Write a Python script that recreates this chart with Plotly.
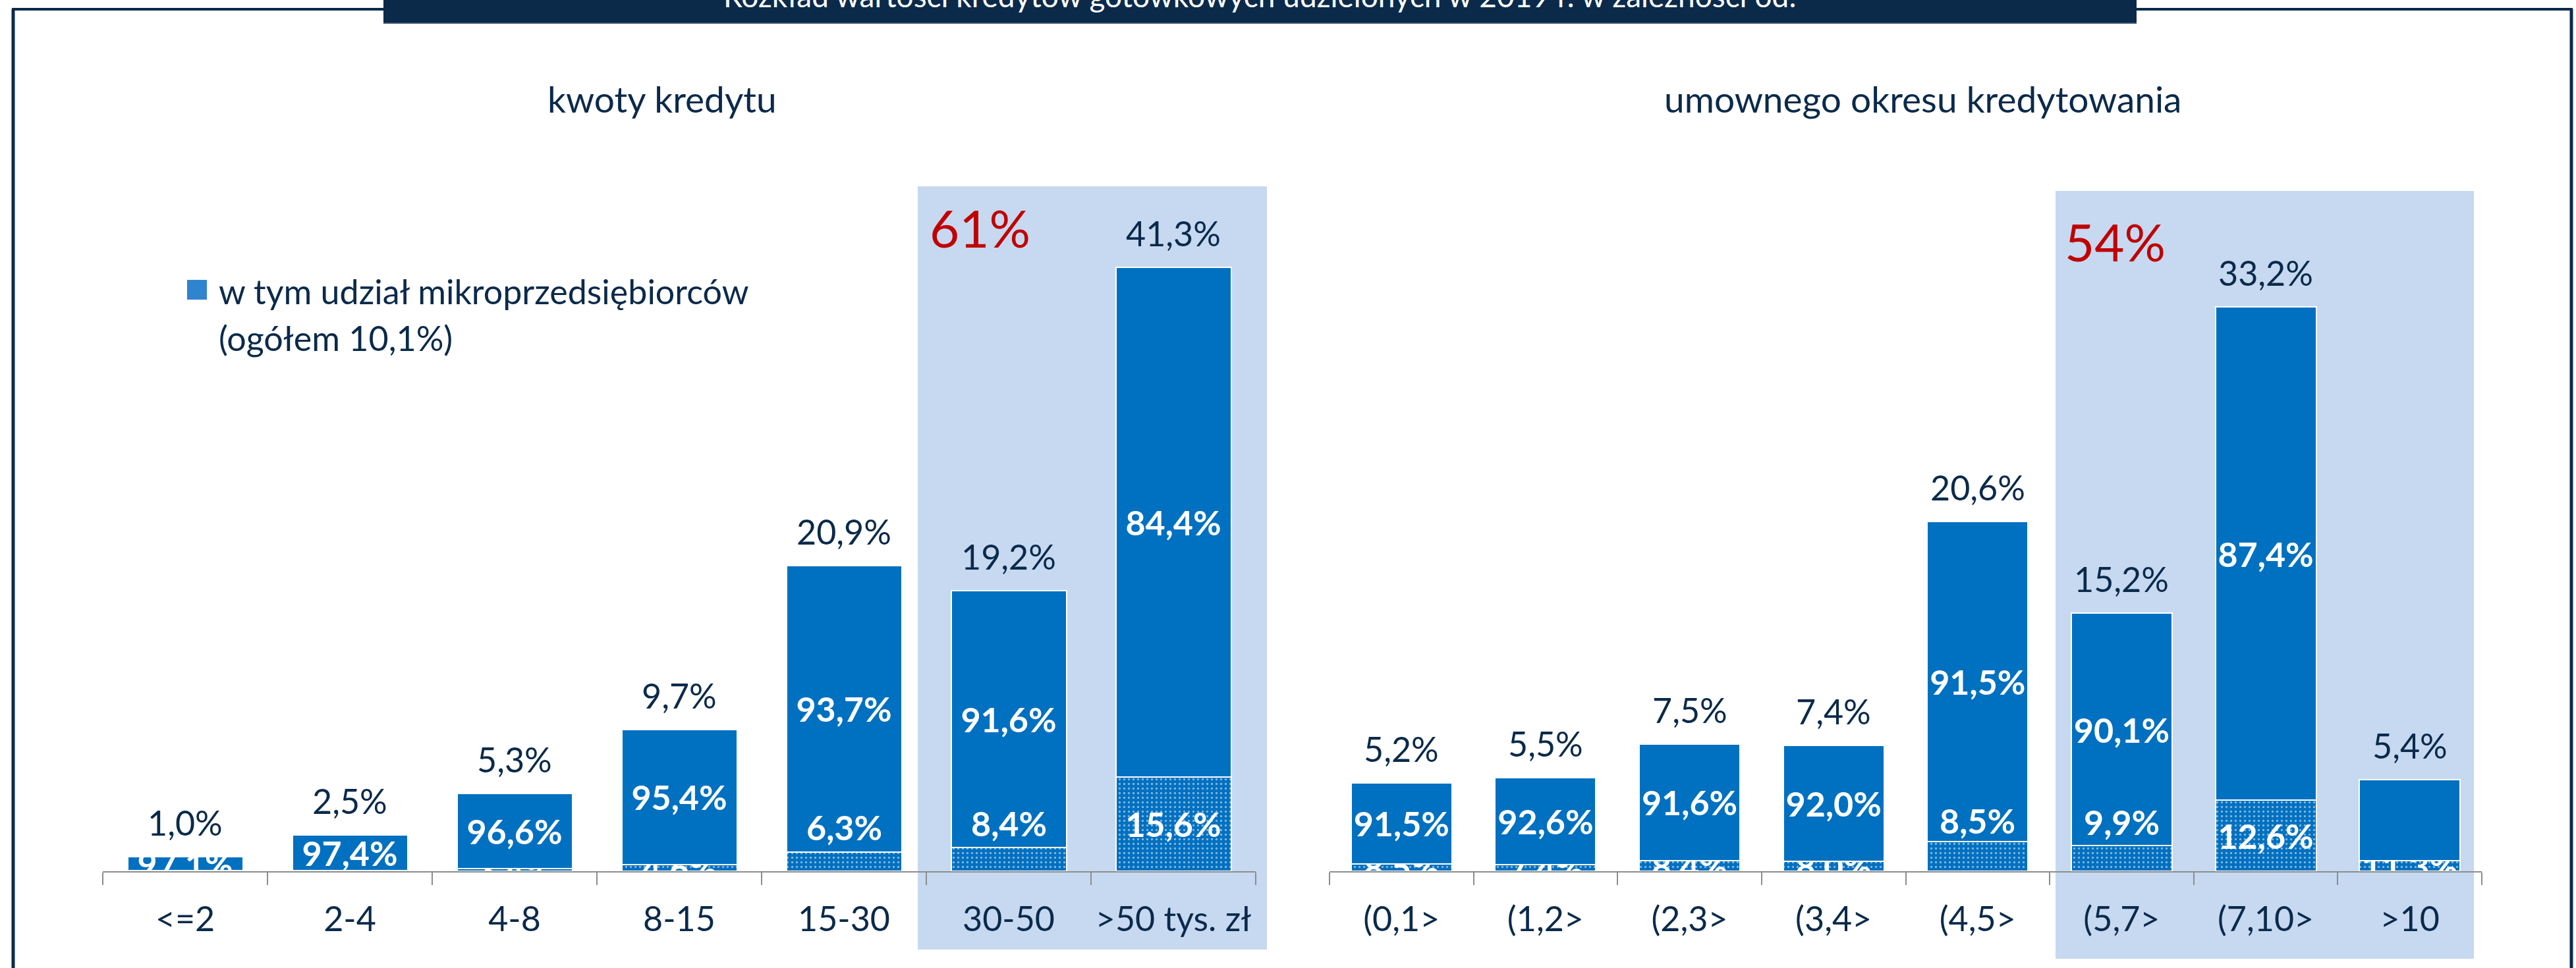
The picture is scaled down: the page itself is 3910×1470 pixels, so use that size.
import plotly.graph_objects as go

W, H = 3910, 1470

# ---------------- data ----------------
left_cats = ["<=2", "2-4", "4-8", "8-15", "15-30", "30-50", ">50 tys. zł"]
left_total = [1.0, 2.5, 5.3, 9.7, 20.9, 19.2, 41.3]
left_micro_share = [2.9, 2.6, 3.4, 4.6, 6.3, 8.4, 15.6]
left_rest_share = [97.1, 97.4, 96.6, 95.4, 93.7, 91.6, 84.4]

right_cats = ["(0,1>", "(1,2>", "(2,3>", "(3,4>", "(4,5>", "(5,7>", "(7,10>", ">10"]
right_total = [5.2, 5.5, 7.5, 7.4, 20.6, 15.2, 33.2, 5.4]
right_micro_share = [8.5, 7.4, 8.4, 8.0, 8.5, 9.9, 12.6, 11.3]
right_rest_share = [91.5, 92.6, 91.6, 92.0, 91.5, 90.1, 87.4, None]

highlight_left = "61%"
highlight_right = "54%"

title_text = "Rozkład wartości kredytów gotówkowych udzielonych w 2019 r. w zależności od:"
left_title = "kwoty kredytu"
right_title = "umownego okresu kredytowania"
legend_line1 = "w tym udział mikroprzedsiębiorców"
legend_line2 = "(ogółem 10,1%)"

# ---------------- styles ----------------
FONT = "Lato"
NAVY = "#0B2A4A"
BAR = "#0070C0"
BOX = "#C6D9F1"
RED = "#C00000"
GRAY = "#8C8C8C"
FS = 52

# labels moved up manually in the original (value-axis position)
moved_micro = {("L", 4): 3.0, ("L", 5): 3.3, ("R", 4): 3.0, ("R", 5): 2.9}


def px(x):
    return x / W


def py(y):
    return 1 - y / H


def fmt(v):
    return "" if v is None else f"{v:.1f}".replace(".", ",") + "%"


fig = go.Figure()

pattern = dict(shape=".", fgcolor="white", bgcolor=BAR, size=7, solidity=0.18, fillmode="overlay")

annotations = []
for side, cats, total, micro_s, rest_s, xa, ya in [
    ("L", left_cats, left_total, left_micro_share, left_rest_share, "x", "y"),
    ("R", right_cats, right_total, right_micro_share, right_rest_share, "x2", "y2"),
]:
    micro = [t * m / 100 for t, m in zip(total, micro_s)]
    rest = [t - m for t, m in zip(total, micro)]
    micro_text = []
    for i, m in enumerate(micro_s):
        if (side, i) in moved_micro:
            micro_text.append("")
            annotations.append(dict(x=cats[i], y=moved_micro[(side, i)], xref=xa, yref=ya,
                                    text=fmt(m), showarrow=False,
                                    font=dict(family=FONT, size=FS, color="white", weight="bold")))
        else:
            micro_text.append(fmt(m))
    common = dict(xaxis=xa, yaxis=ya, width=0.7, showlegend=False, textposition="inside",
                  insidetextanchor="middle", constraintext="none", textangle=0,
                  insidetextfont=dict(family=FONT, size=FS, color="white", weight="bold"),
                  hoverinfo="skip")
    fig.add_trace(go.Bar(x=cats, y=micro, text=micro_text,
                         marker=dict(color=BAR, pattern=pattern, line=dict(color="white", width=2)),
                         **common))
    fig.add_trace(go.Bar(x=cats, y=rest, text=[fmt(r) for r in rest_s],
                         marker=dict(color=BAR, line=dict(color="white", width=2)),
                         **common))
    for c, t in zip(cats, total):
        annotations.append(dict(x=c, y=t, xref=xa, yref=ya, text=fmt(t), showarrow=False,
                                yshift=52, font=dict(family=FONT, size=FS, color=NAVY)))

# text annotations in page coordinates
def page_ann(x, y, text, size, color, xanchor="center", weight="normal"):
    annotations.append(dict(x=px(x), y=py(y), xref="paper", yref="paper", text=text,
                            showarrow=False, xanchor=xanchor, yanchor="middle",
                            font=dict(family=FONT, size=size, color=color, weight=weight)))

page_ann(1912, -6, title_text, 46, "white")
page_ann(1005, 150, left_title, 55, NAVY)
page_ann(2918, 150, right_title, 55, NAVY)
page_ann(1487, 346, highlight_left, 78, RED)
page_ann(3210, 367, highlight_right, 78, RED)
page_ann(330, 442, legend_line1, FS, NAVY, xanchor="left")
page_ann(330, 513, legend_line2, FS, NAVY, xanchor="left")

shapes = []

def rect(x0, y0, x1, y1, color, layer="below"):
    shapes.append(dict(type="rect", xref="paper", yref="paper", x0=px(x0), x1=px(x1),
                       y0=py(y1), y1=py(y0), fillcolor=color, line=dict(width=0), layer=layer))

def line(x0, y0, x1, y1, color, width):
    shapes.append(dict(type="line", xref="paper", yref="paper", x0=px(x0), x1=px(x1),
                       y0=py(y0), y1=py(y1), line=dict(color=color, width=width), layer="above"))

rect(1393, 283, 1923, 1442, BOX)
rect(3120, 290, 3755, 1456, BOX)
# frame
line(20, 14, 20, 1475, NAVY, 5)
line(3903, 14, 3903, 1475, NAVY, 5)
line(18, 14, 590, 14, NAVY, 4)
line(3235, 14, 3905, 14, NAVY, 4)
rect(582, -20, 3243, 35, NAVY, layer="above")
line(582, 35, 3243, 35, "#2F4F70", 2)
# legend swatch
rect(284, 425, 314, 455, "#2F84CF", layer="above")

BASE = 1323
TOP = 270
left_pxpp = 22.2
right_pxpp = 25.8

xcommon = dict(showline=True, linecolor=GRAY, linewidth=2, ticks="outside", tickson="boundaries",
               ticklen=19, tickcolor=GRAY, tickwidth=2, showgrid=False, zeroline=False,
               tickfont=dict(family=FONT, size=FS, color=NAVY), fixedrange=True, ticklabelstandoff=27)
ycommon = dict(visible=False, showgrid=False, zeroline=False, fixedrange=True)

fig.update_layout(
    width=W, height=H,
    margin=dict(l=0, r=0, t=0, b=0),
    paper_bgcolor="white", plot_bgcolor="rgba(0,0,0,0)",
    barmode="stack", bargap=0.3,
    xaxis=dict(domain=[px(156), px(1906)], range=[-0.5, 6.5], **xcommon),
    yaxis=dict(domain=[py(BASE), py(TOP)], range=[0, (BASE - TOP) / left_pxpp], **ycommon),
    xaxis2=dict(domain=[px(2018), px(3767)], range=[-0.5, 7.5], anchor="y2", **xcommon),
    yaxis2=dict(domain=[py(BASE), py(TOP)], range=[0, (BASE - TOP) / right_pxpp], anchor="x2", **ycommon),
    annotations=annotations,
    shapes=shapes,
    font=dict(family=FONT, color=NAVY),
)

fig.write_html("out.html", config={"displayModeBar": False},
               post_script="document.body.style.margin='0';document.body.style.overflow='hidden';")
